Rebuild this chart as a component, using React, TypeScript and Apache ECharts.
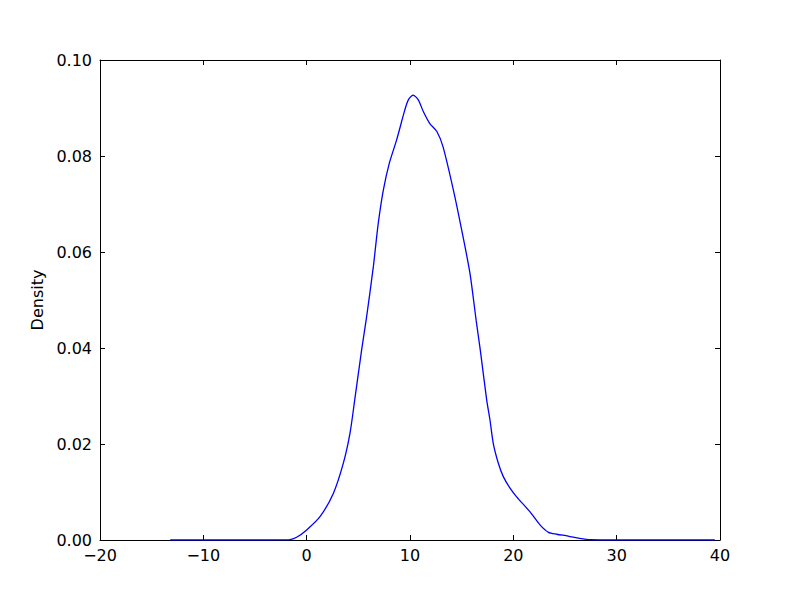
import React, { useEffect, useRef } from "react";
import * as echarts from "echarts";

const xValues = [-13.2, -10, -5, -2.5, -1.6, -0.97, 0, 1.29, 2.58, 3.55, 4.19, 4.67, 5.32, 5.8, 6.45, 6.93, 7.42, 8.0, 8.7, 9.5, 9.84, 10.3, 10.8, 11.3, 11.9, 12.6, 13.2, 14.2, 15.0, 15.8, 16.4, 16.8, 17.42, 17.74, 18.06, 18.55, 19.03, 19.68, 20.32, 21.6, 22.6, 23.4, 24.2, 25.3, 26.4, 27.5, 30, 35, 39.5];
const densityValues = [0, 0, 0, 0.00002, 0.0001, 0.00056, 0.0021, 0.00486, 0.0097, 0.016, 0.0222, 0.0295, 0.0396, 0.0465, 0.0569, 0.066, 0.0729, 0.0785, 0.0833, 0.0896, 0.0917, 0.0927, 0.0917, 0.0892, 0.0868, 0.0851, 0.0819, 0.0729, 0.0646, 0.0556, 0.0458, 0.0396, 0.0292, 0.025, 0.0201, 0.016, 0.0132, 0.0108, 0.009, 0.0059, 0.0031, 0.0016, 0.0012, 0.00083, 0.00035, 0.00005, 0, 0, 0];

const xTicks = { min: -20, max: 40, interval: 10 };
const yTicks = { min: 0, max: 0.1, interval: 0.02 };

const FONT = "DejaVu Sans";

export default function App() {
  const ref = useRef<HTMLDivElement>(null);
  useEffect(() => {
    if (!ref.current) return;
    const chart = echarts.init(ref.current, null, { renderer: "svg" });
    const fmtX = (v: number) => (v < 0 ? "\u2212" + Math.abs(v) : String(v));
    const axisLine = { show: true, onZero: false, lineStyle: { color: "#000", width: 1 } };
    const tick = { show: true, inside: true, length: 5, lineStyle: { color: "#000", width: 1 } };
    const label = { color: "#000", fontFamily: FONT, fontSize: 16 };
    chart.setOption({
      animation: false,
      backgroundColor: "#fff",
      grid: { left: 100, right: 80, top: 60, bottom: 60, containLabel: false },
      xAxis: [
        {
          type: "value", position: "bottom", ...xTicks,
          axisLine, axisTick: tick, splitLine: { show: false },
          axisLabel: { ...label, margin: 7, formatter: fmtX },
        },
        {
          type: "value", position: "top", ...xTicks,
          axisLine, axisTick: tick, splitLine: { show: false },
          axisLabel: { show: false },
        },
      ],
      yAxis: [
        {
          type: "value", position: "left", ...yTicks,
          name: "Density", nameLocation: "middle", nameGap: 49,
          nameTextStyle: { color: "#000", fontFamily: FONT, fontSize: 16 },
          axisLine, axisTick: tick, splitLine: { show: false },
          axisLabel: { ...label, margin: 8, formatter: (v: number) => v.toFixed(2) },
        },
        {
          type: "value", position: "right", ...yTicks,
          axisLine, axisTick: tick, splitLine: { show: false },
          axisLabel: { show: false },
        },
      ],
      series: [
        {
          type: "line",
          xAxisIndex: 0,
          yAxisIndex: 0,
          data: xValues.map((x, i) => [x, densityValues[i]]),
          showSymbol: false,
          smooth: 0.25,
          lineStyle: { color: "#0000ff", width: 1.3 },
        },
      ],
    });
    return () => chart.dispose();
  }, []);
  return <div ref={ref} style={{ width: 800, height: 600, position: "absolute", left: 0, top: 0 }} />;
}
